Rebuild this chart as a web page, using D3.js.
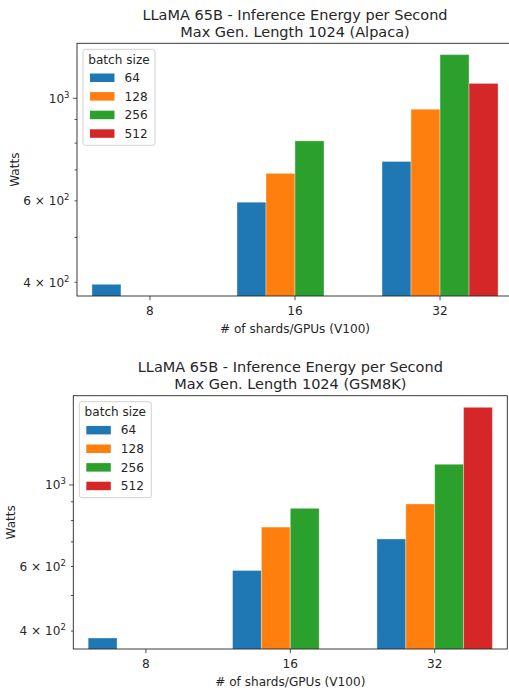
<!DOCTYPE html>
<html>
<head>
<meta charset="utf-8">
<script src="https://cdn.jsdelivr.net/npm/d3@7"></script>
<style>
  html, body { margin: 0; padding: 0; background: #fff; }
  svg { display: block; }
  text { font-family: "DejaVu Sans", sans-serif; fill: #262626; }
</style>
</head>
<body>
<svg id="chart" width="509" height="692"></svg>
<script>
// ---------- data ----------
const categories = ["8", "16", "32"];
const batchSizes = ["64", "128", "256", "512"];
const colors = ["#1f77b4", "#ff7f0e", "#2ca02c", "#d62728"];

// Watts, rows = batch size, columns = shards (null = no bar)
const alpacaValues = [
  [396, 596, 730],
  [null, 688, 947],
  [null, 809, 1243],
  [null, null, 1077]
];
const gsm8kValues = [
  [383, 585, 713],
  [null, 768, 888],
  [null, 864, 1139],
  [null, null, 1628]
];

const titleAlpaca = ["LLaMA 65B - Inference Energy per Second", "Max Gen. Length 1024 (Alpaca)"];
const titleGsm8k = ["LLaMA 65B - Inference Energy per Second", "Max Gen. Length 1024 (GSM8K)"];
const xLabel = "# of shards/GPUs (V100)";
const yLabel = "Watts";
const legendTitle = "batch size";

const majorTicks = [{v: 1000, base: "10", exp: "3"}];
const labelledMinorTicks = [{v: 400, base: "4 \u00d7 10", exp: "2"}, {v: 600, base: "6 \u00d7 10", exp: "2"}];
const minorTicks = [500, 700, 800, 900];

const svg = d3.select("#chart");
const FS = 12.1;

function drawChart(cfg) {
  const g = svg.append("g");
  const {left, right, top, bottom} = cfg;
  const x = d3.scaleLinear().domain([-0.503, 2.503]).range([left, right]);
  const y = d3.scaleLog().domain(cfg.yDomain).range([bottom, top]);
  const bw = x(0.2) - x(0);

  // clip
  const clipId = "clip" + cfg.id;
  g.append("clipPath").attr("id", clipId).append("rect")
    .attr("x", left).attr("y", top).attr("width", right - left).attr("height", bottom - top);

  // bars
  const bars = g.append("g").attr("clip-path", `url(#${clipId})`);
  cfg.values.forEach((row, si) => {
    row.forEach((v, ci) => {
      if (v == null) return;
      const x0 = x(ci - 0.4 + si * 0.2);
      bars.append("rect")
        .attr("x", x0).attr("width", bw)
        .attr("y", y(v)).attr("height", bottom + 5 - y(v))
        .attr("fill", colors[si])
        .attr("stroke", "#ffffff").attr("stroke-opacity", 0.35).attr("stroke-width", 1);
    });
  });

  // y ticks
  const yt = g.append("g");
  minorTicks.forEach(v => {
    yt.append("line").attr("x1", left - 2.4).attr("x2", left)
      .attr("y1", y(v)).attr("y2", y(v)).attr("stroke", "#262626").attr("stroke-width", 0.8);
  });
  const labelled = majorTicks.map(d => ({...d, len: 4.2})).concat(labelledMinorTicks.map(d => ({...d, len: 2.4})));
  labelled.forEach(d => {
    const yy = y(d.v);
    yt.append("line").attr("x1", left - d.len).attr("x2", left)
      .attr("y1", yy).attr("y2", yy).attr("stroke", "#262626").attr("stroke-width", 0.8);
    const t = yt.append("text").attr("x", left - 7.5).attr("y", yy + 4.3)
      .attr("text-anchor", "end").style("font-size", FS + "px");
    t.append("tspan").text(d.base);
    t.append("tspan").attr("dy", -5).style("font-size", "8.5px").text(d.exp);
  });

  // x ticks
  const xt = g.append("g");
  categories.forEach((c, i) => {
    xt.append("line").attr("x1", x(i)).attr("x2", x(i))
      .attr("y1", bottom).attr("y2", bottom + 4.2).attr("stroke", "#262626").attr("stroke-width", 0.8);
    xt.append("text").attr("x", x(i)).attr("y", bottom + 19)
      .attr("text-anchor", "middle").style("font-size", FS + "px").text(c);
  });

  // spines
  g.append("rect").attr("x", left).attr("y", top).attr("width", right - left).attr("height", bottom - top)
    .attr("fill", "none").attr("stroke", "#262626").attr("stroke-width", 0.9);

  // labels
  g.append("text").attr("x", (left + right) / 2).attr("y", bottom + 36.5)
    .attr("text-anchor", "middle").style("font-size", FS + "px").text(xLabel);
  g.append("text").attr("transform", `translate(${cfg.yLabelX},${(top + bottom) / 2}) rotate(-90)`)
    .attr("text-anchor", "middle").style("font-size", FS + "px").text(yLabel);

  // title
  cfg.title.forEach((line, i) => {
    g.append("text").attr("x", (left + right) / 2).attr("y", top - 23.5 + i * 16.7)
      .attr("text-anchor", "middle").style("font-size", "14.5px").text(line);
  });

  // legend
  const lg = g.append("g").attr("transform", `translate(${left + 6},${top + 6})`);
  lg.append("rect").attr("x", 0).attr("y", 0).attr("width", 72).attr("height", 96)
    .attr("rx", 2.5).attr("fill", "#fff").attr("fill-opacity", 0.8)
    .attr("stroke", "#cccccc").attr("stroke-width", 0.9);
  lg.append("text").attr("x", 36).attr("y", 14.5).attr("text-anchor", "middle")
    .style("font-size", FS + "px").text(legendTitle);
  batchSizes.forEach((b, i) => {
    const cy = 28.5 + i * 18.6;
    lg.append("rect").attr("x", 7).attr("y", cy - 4.3).attr("width", 24.5).attr("height", 8.5)
      .attr("fill", colors[i]);
    lg.append("text").attr("x", 41.5).attr("y", cy + 4.3).style("font-size", FS + "px").text(b);
  });
}

drawChart({id: 1, left: 77, right: 513, top: 43.3, bottom: 296,
  yDomain: [373.6, 1315], values: alpacaValues, title: titleAlpaca, yLabelX: 19});
drawChart({id: 2, left: 73.3, right: 507.3, top: 395.7, bottom: 649,
  yDomain: [357.5, 1751], values: gsm8kValues, title: titleGsm8k, yLabelX: 15});
</script>
</body>
</html>
